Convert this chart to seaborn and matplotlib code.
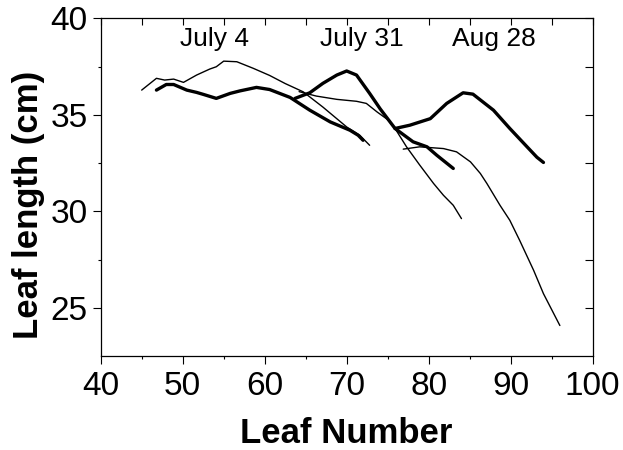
import matplotlib
matplotlib.use("Agg")
import matplotlib.pyplot as plt
import seaborn as sns
import pandas as pd

# Leaf length profiles along the stem on three sampling dates
jul4_bold_x = [46.8, 48.0, 48.9, 50.5, 51.7, 52.5, 54.1, 55.8, 57.0, 59.0, 60.6, 63.1, 65.5, 68.0, 70.4, 71.4, 72.0]
jul4_bold_y = [36.28, 36.57, 36.57, 36.28, 36.16, 36.06, 35.85, 36.11, 36.24, 36.42, 36.31, 35.90, 35.24, 34.63, 34.20, 33.94, 33.68]

jul4_thin_x = [45.0, 46.8, 47.8, 48.9, 50.1, 51.7, 53.3, 54.1, 55.0, 56.6, 58.6, 60.6, 62.5, 64.7, 67.1, 70.0, 71.6, 72.8]
jul4_thin_y = [36.28, 36.89, 36.80, 36.85, 36.68, 37.06, 37.37, 37.49, 37.78, 37.75, 37.41, 37.04, 36.62, 36.19, 35.40, 34.37, 33.94, 33.42]

jul31_bold_x = [63.7, 65.5, 67.1, 68.8, 70.0, 71.2, 72.8, 74.1, 75.9, 78.1, 79.8, 81.0, 83.0]
jul31_bold_y = [35.85, 36.14, 36.63, 37.06, 37.27, 37.06, 36.11, 35.30, 34.29, 33.60, 33.34, 32.90, 32.22]

jul31_thin_x = [64.2, 66.3, 68.8, 71.2, 72.4, 73.7, 75.0, 75.9, 77.3, 78.9, 80.6, 81.8, 83.0, 84.0]
jul31_thin_y = [36.20, 35.97, 35.80, 35.70, 35.59, 35.15, 34.75, 34.29, 33.34, 32.40, 31.44, 30.83, 30.31, 29.62]

aug28_bold_x = [75.9, 77.7, 80.2, 82.2, 84.2, 85.4, 87.9, 89.9, 92.0, 93.2, 94.0]
aug28_bold_y = [34.29, 34.46, 34.80, 35.59, 36.14, 36.07, 35.24, 34.29, 33.34, 32.80, 32.53]

aug28_thin_x = [76.9, 78.9, 81.8, 83.4, 85.1, 86.3, 87.1, 88.7, 89.9, 91.1, 92.8, 94.0, 96.0]
aug28_thin_y = [33.22, 33.34, 33.25, 33.08, 32.56, 31.96, 31.44, 30.31, 29.53, 28.49, 26.94, 25.73, 24.08]

date_labels = ["July 4", "July 31", "Aug 28"]
date_label_x = [53.84, 71.9, 88.0]
date_label_y = 38.56

x_ticks = [40, 50, 60, 70, 80, 90, 100]
y_ticks = [25, 30, 35, 40]

sns.set_theme(style="ticks")
plt.rcParams["font.family"] = ["Liberation Sans", "DejaVu Sans"]
plt.rcParams["text.color"] = "black"
plt.rcParams["axes.labelcolor"] = "black"
plt.rcParams["xtick.color"] = "black"
plt.rcParams["ytick.color"] = "black"

fig = plt.figure(figsize=(6.23, 4.5), dpi=100)
ax = fig.add_axes([0.1616, 0.2089, 0.7897, 0.7504])

series = [
    (jul4_bold_x, jul4_bold_y, 2.4),
    (jul4_thin_x, jul4_thin_y, 1.0),
    (jul31_bold_x, jul31_bold_y, 2.4),
    (jul31_thin_x, jul31_thin_y, 1.0),
    (aug28_bold_x, aug28_bold_y, 2.4),
    (aug28_thin_x, aug28_thin_y, 1.0),
]
for xs, ys, lw in series:
    df = pd.DataFrame({"leaf": xs, "length": ys})
    sns.lineplot(data=df, x="leaf", y="length", ax=ax, color="black",
                 linewidth=lw, estimator=None, sort=False)

for lab, lx in zip(date_labels, date_label_x):
    ax.text(lx, date_label_y, lab, ha="center", va="baseline", fontsize=19, color="black")

ax.set_xlim(40, 100)
ax.set_ylim(22.5, 40)
ax.set_xticks(x_ticks)
ax.set_yticks(y_ticks)
ax.set_xticks([45, 55, 65, 75, 85, 95], minor=True)
ax.set_yticks([27.5, 32.5, 37.5], minor=True)
ax.tick_params(which="major", direction="out", length=5.5, width=0.8, colors="black",
               labelcolor="black", labelsize=24, pad=4)
ax.tick_params(axis="x", which="major", pad=5)
ax.tick_params(which="minor", direction="out", length=2.5, width=0.8, colors="black")

ax.set_xlabel("Leaf Number", fontsize=25, fontweight="bold", labelpad=11, color="black")
ax.set_ylabel("Leaf length (cm)", fontsize=25, fontweight="bold", color="black")
ax.yaxis.set_label_coords(-0.114, 0.447)

for sp in ax.spines.values():
    sp.set_visible(True)
    sp.set_linewidth(0.9)
    sp.set_color("black")

# Inward ticks on the top and right edges
top = ax.twiny()
top.set_xlim(ax.get_xlim())
top.set_xticks([40, 45, 50, 55, 60, 65, 70, 75, 80, 85, 90, 95, 100])
top.tick_params(axis="x", direction="in", length=5, width=0.8, labeltop=False, colors="black")
right = ax.twinx()
right.set_ylim(ax.get_ylim())
right.set_yticks([25, 27.5, 30, 32.5, 35, 37.5, 40])
right.tick_params(axis="y", direction="in", length=5.5, width=0.8, labelright=False, colors="black")
for a in (top, right):
    for sp in a.spines.values():
        sp.set_visible(False)

ax.set_facecolor("white")
fig.patch.set_facecolor("white")
fig.savefig("out.png", dpi=100)
